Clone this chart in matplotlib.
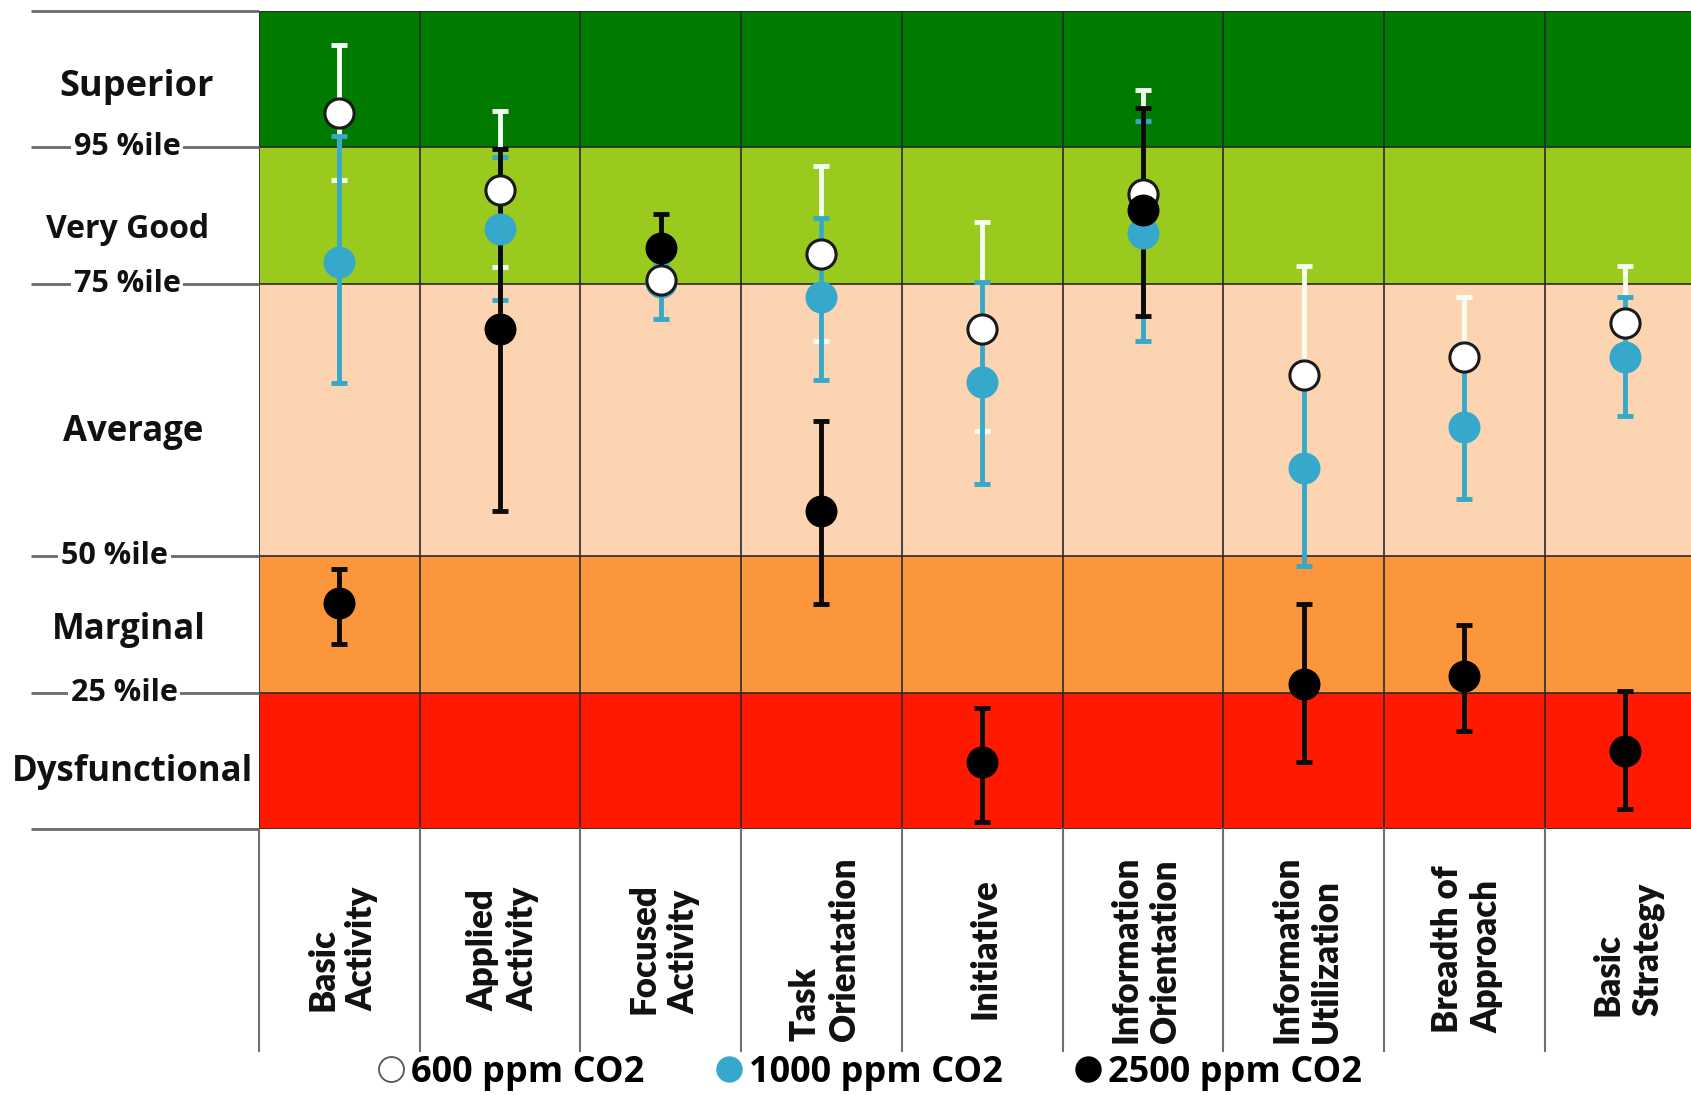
import matplotlib.pyplot as plt
from matplotlib.lines import Line2D

# columns of the chart
categories = ["Basic\nActivity", "Applied\nActivity", "Focused\nActivity",
              "Task\nOrientation", "Initiative", "Information\nOrientation",
              "Information\nUtilization", "Breadth of\nApproach", "Basic\nStrategy"]

# rating bands, bottom to top (score scale: 0..6, "Average" spans two units)
bands = ["Dysfunctional", "Marginal", "Average", "Very Good", "Superior"]
band_lo = [0, 1, 2, 4, 5]
band_hi = [1, 2, 4, 5, 6]
band_colors = ["#FF1900", "#FC963C", "#FDD4B1", "#9BCA1F", "#007B00"]
pct_labels = ["25 %ile", "50 %ile", "75 %ile", "95 %ile"]
pct_levels = [1, 2, 4, 5]

# 600 ppm CO2
v600 = [5.25, 4.69, 4.03, 4.22, 3.67, 4.66, 3.33, 3.46, 3.71]
hi600 = [5.75, 5.27, 4.20, 4.86, 4.45, 5.42, 4.13, 3.90, 4.13]
lo600 = [4.76, 4.12, 3.97, 3.58, 2.92, 4.45, 2.62, 3.00, 3.45]
# 1000 ppm CO2
v1000 = [4.16, 4.40, 4.01, 3.90, 3.28, 4.37, 2.65, 2.95, 3.46]
hi1000 = [5.08, 4.93, 4.15, 4.48, 4.01, 5.19, 3.30, 3.40, 3.90]
lo1000 = [3.27, 3.88, 3.74, 3.29, 2.53, 3.58, 1.93, 2.42, 3.03]
# 2500 ppm CO2
v2500 = [1.66, 3.67, 4.26, 2.33, 0.49, 4.54, 1.06, 1.12, 0.57]
hi2500 = [1.91, 4.99, 4.51, 2.99, 0.89, 5.29, 1.65, 1.50, 1.01]
lo2500 = [1.36, 2.33, 4.05, 1.65, 0.05, 3.76, 0.49, 0.72, 0.15]

W, H = 1691, 1095
fig = plt.figure(figsize=(W / 100, H / 100), dpi=100)
ax = fig.add_axes([259 / W, (H - 829) / H, 9 * 160.7 / W, (829 - 11) / H])
ax.set_xlim(0, 9)
ax.set_ylim(0, 6)
ax.axis('off')

label_font = dict(family='Open Sans', weight='bold', color='#111111')

for lo, hi, c in zip(band_lo, band_hi, band_colors):
    ax.axhspan(lo, hi, color=c, zorder=0, lw=0)
for i in range(10):
    ax.axvline(i, color='#2a2a2a', lw=1.2, zorder=1)
    ax.plot([i, i], [0, -1.63], color='#707070', lw=1.5, clip_on=False)
for y in band_lo + [6]:
    ax.axhline(y, color='#2a2a2a', lw=1.2, zorder=1)
    ax.plot([-1.42, 0], [y, y], color='#6a6a6a', lw=2, clip_on=False,
            solid_capstyle='butt')

# band names and percentile marks on the left
band_x = [-0.79, -0.81, -0.78, -0.82, -0.76]
band_y = [0.42, 1.46, 2.91, 4.40, 5.44]
band_size = [25, 25, 25, 23, 26]
for name, bx, by, fs in zip(bands, band_x, band_y, band_size):
    ax.text(bx, by, name, ha='center', va='center',
            fontsize=fs, clip_on=False, **label_font)
pct_x = [-0.84, -0.90, -0.82, -0.82]
for lab, px, y in zip(pct_labels, pct_x, pct_levels):
    ax.text(px, y, lab, ha='center', va='center', fontsize=22,
            clip_on=False,
            bbox=dict(facecolor='white', edgecolor='none', pad=2), **label_font)

# category labels under the columns
for i, cat in enumerate(categories):
    ax.text(i + 0.52, -0.88, cat, rotation=90, ha='center', va='center',
            multialignment='left', fontsize=25, linespacing=1.25,
            family='Lato', weight='heavy', color='#111111', clip_on=False)

x = [i + 0.5 for i in range(len(categories))]


def err(v, lo, hi):
    return [[a - b for a, b in zip(v, lo)], [b - a for a, b in zip(v, hi)]]


ax.errorbar(x, v600, yerr=err(v600, lo600, hi600), fmt='none',
            ecolor='#F4FFF0', elinewidth=3.5, capsize=6, capthick=3.5, zorder=3)
ax.errorbar(x, v1000, yerr=err(v1000, lo1000, hi1000), fmt='none',
            ecolor='#36A8C8', elinewidth=3.5, capsize=6, capthick=3.5, zorder=4)
ax.errorbar(x, v2500, yerr=err(v2500, lo2500, hi2500), fmt='none',
            ecolor='#0a0a0a', elinewidth=3.5, capsize=6, capthick=3.5, zorder=5)

ax.plot(x, v1000, 'o', ms=22, mfc='#36A8CC', mec='#36A8CC', zorder=6)
ax.plot(x, v600, 'o', ms=21, mfc='white', mec='#1a1a1a', mew=2.2, zorder=7)
ax.plot(x, v2500, 'o', ms=22, mfc='black', mec='black', zorder=8)

handles = [
    Line2D([], [], ls='none', marker='o', ms=18, mfc='white', mec='#555555', mew=1.3),
    Line2D([], [], ls='none', marker='o', ms=18, mfc='#36A8CC', mec='#36A8CC'),
    Line2D([], [], ls='none', marker='o', ms=18, mfc='black', mec='black'),
]
fig.legend(handles, ["600 ppm CO2", "1000 ppm CO2", "2500 ppm CO2"],
           loc='center', bbox_to_anchor=(870 / W, 1 - 1073 / H), ncol=3,
           frameon=False, handlelength=0.7, handletextpad=0.2,
           columnspacing=2.0,
           prop=dict(family='Open Sans', weight='bold', size=26))

fig.savefig('out.png', dpi=100, facecolor='white')
